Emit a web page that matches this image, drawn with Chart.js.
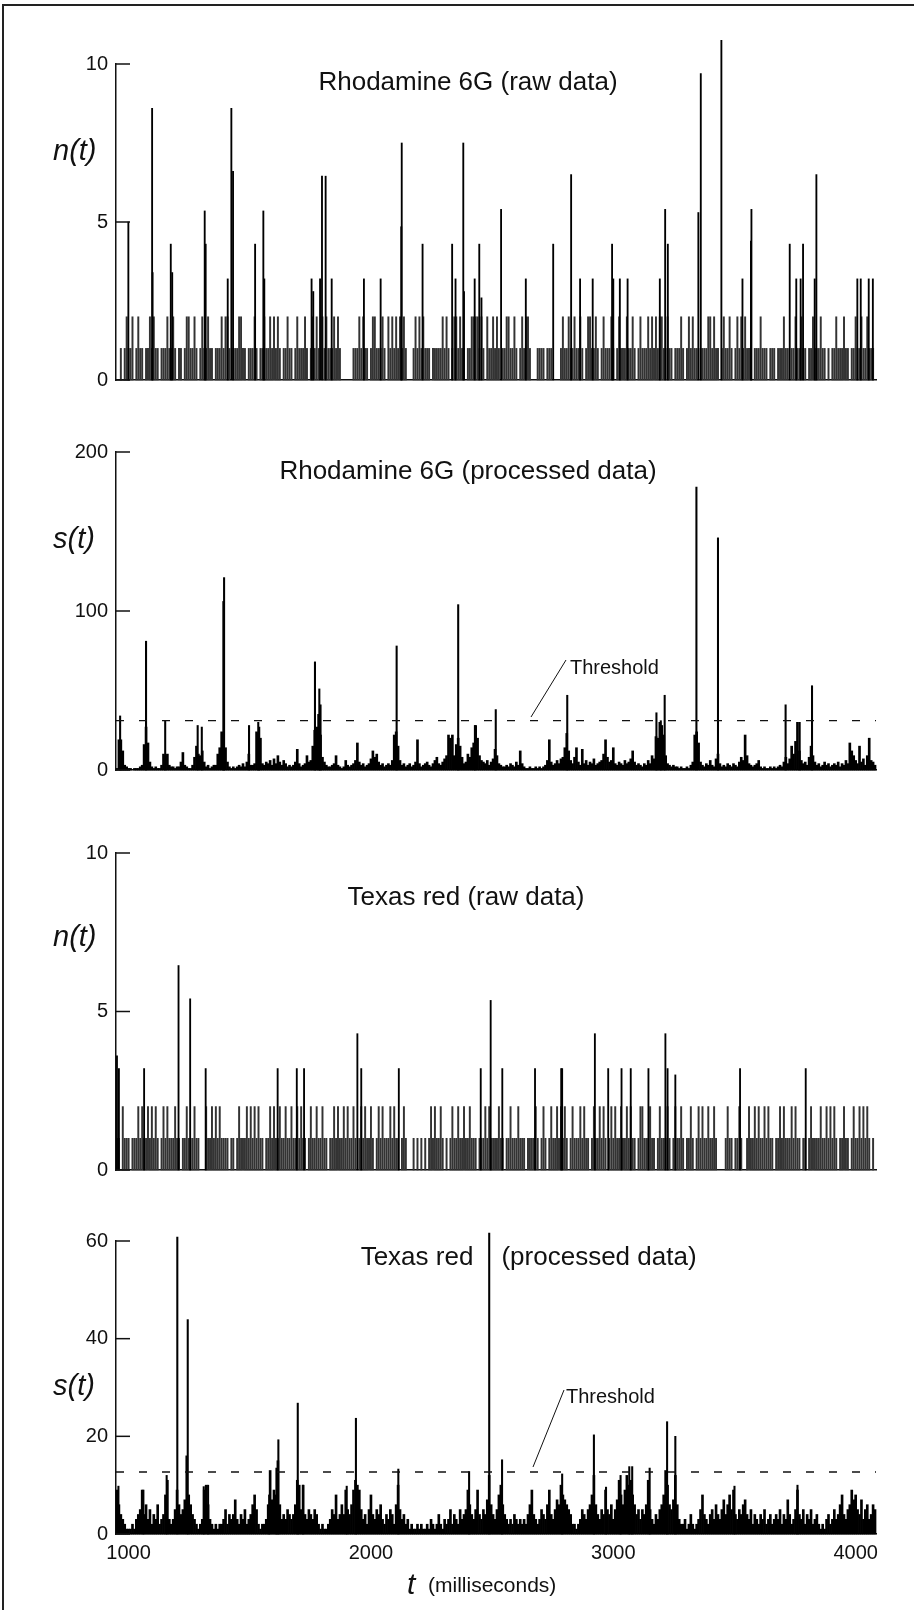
<!DOCTYPE html>
<html lang="en">
<head>
<meta charset="UTF-8" />
<title>Single-molecule photon bursts</title>
<script src="https://cdn.jsdelivr.net/npm/chart.js"></script>
<style>
  body { margin: 0; background: #fff; }
  .page { position: relative; width: 914px; height: 1610px; overflow: hidden; background: #fff; }
  .page canvas { position: absolute; left: 0; }
  .frame { position: absolute; left: 2px; top: 4px; width: 930px; height: 1620px;
           border-left: 2px solid #222; border-top: 2px solid #222; }
</style>
</head>
<body>
<div class="page">
  <div class="frame"></div>
  <canvas id="p1" width="914" height="380" style="top:20px"></canvas>
  <canvas id="p2" width="914" height="380" style="top:410px"></canvas>
  <canvas id="p3" width="914" height="390" style="top:800px"></canvas>
  <canvas id="p4" width="914" height="415" style="top:1195px"></canvas>
</div>
<script>
// time axis (ms)
const tMin = 948;
const tMax = 4084;
const tAxisTicks = [1000, 2000, 3000, 4000];
// binned traces: one character per 8 ms bin starting at 952 ms (base 36)
const binStart = 952;
const binWidth = 8;

// --- Rhodamine 6G, raw counts n(t) ---
const r6gRaw =
  "0010121120" + "1211011212" + "1101112112" + "1011012211" +
  "2101211211" + "0111212210" + "1112211011" + "1210112112" +
  "1212101121" + "1012111210" + "1212102121" + "1121210000" +
  "0011121211" + "0122111210" + "2121212121" + "0001212121" +
  "1101111121" + "2101221211" + "0112222121" + "0211212101" +
  "1221121012" + "1221000111" + "1011100001" + "2112112112" +
  "1012211210" + "1211121012" + "1112112101" + "2111212121" +
  "2211211011" + "1210121211" + "0111122121" + "1012112101" +
  "2121211101" + "1121110111" + "0111211011" + "2112110112" +
  "1112110101" + "1211121101" + "1211211211" + "10";
const r6gRawPeakT = [999, 1097, 1099, 1174, 1180, 1314, 1318, 1409, 1424, 1431, 1522, 1556, 1560,
  1755, 1762, 1790, 1798, 1813, 1838, 1971, 2040, 2125, 2127, 2213, 2335, 2349, 2381, 2384,
  2428, 2447, 2456, 2537, 2639, 2752, 2826, 2863, 2915, 2995, 3000, 3027, 3059, 3192, 3214,
  3225, 3351, 3361, 3446, 3533, 3568, 3570, 3728, 3755, 3773, 3783, 3831, 3838, 4007, 4021,
  4054, 4071];
const r6gRawPeakN = [5, 8.6, 3.4, 4.3, 3.4, 5.35, 4.3, 3.2, 8.6, 6.6, 4.3, 5.35, 3.2,
  3.2, 2.8, 3.2, 6.45, 6.45, 3.2, 3.2, 3.2, 4.85, 7.5, 4.3, 4.3, 3.2, 7.5, 2.8,
  3.2, 4.3, 2.6, 5.4, 3.2, 4.3, 6.5, 3.2, 3.2, 4.3, 3.2, 3.2, 3.2, 3.2, 5.4,
  4.3, 5.3, 9.7, 10.75, 3.2, 4.4, 5.4, 4.3, 3.2, 3.2, 4.3, 3.2, 6.5, 3.2, 3.2,
  3.2, 3.2];

// --- Rhodamine 6G, processed s(t) ---
const r6gProc =
  "1jjc321101" + "1123grh521" + "2113a9a322" + "1225b32113" +
  "8fa9c52312" + "33aeoke521" + "21232425a3" + "34onk43546" +
  "3749536423" + "235d423495" + "6fprzm8532" + "2349321263" +
  "2346h53423" + "47c8a53423" + "436mof6342" + "34235j4234" +
  "5324684357" + "9mkm9gkf84" + "5a8ehsk965" + "46357d9432" +
  "23243253c4" + "2112112121" + "236j534647" + "8enc648e53" +
  "d463547345" + "6aj856e435" + "436457c534" + "32436497lk" +
  "usm9432322" + "12112135mo" + "h532436327" + "a423243243" +
  "2586m94323" + "4621211212" + "12325847fa" + "iuc64538f9" +
  "5342353423" + "43524364hc" + "964f5739k6" + "53";
const r6gProcPeakT = [965, 1072, 1151, 1285, 1302, 1391, 1394, 1497, 1535, 1539, 1769, 1787, 1792,
  2106, 2360, 2429, 2515, 2810, 3178, 3196, 3212, 3343, 3432, 3711, 3769, 3820];
const r6gProcPeakS = [34, 81, 31, 28, 27, 106, 121, 28, 30, 27, 68, 51, 41,
  78, 104, 28, 38, 47, 36, 31, 47, 178, 146, 41, 30, 53];
const r6gThreshold = 31;

// --- Texas red, raw counts n(t) ---
const trRaw =
  "1102111011" + "1212112121" + "2101212111" + "2110112111" +
  "2110002112" + "1212111101" + "1012111212" + "1212110112" +
  "1211211211" + "2112121101" + "2112112110" + "1121211212" +
  "1121012121" + "1210121211" + "1212110121" + "0001010101" +
  "0121211210" + "1012112112" + "1121110111" + "2121111211" +
  "0112111211" + "1011112101" + "2101211212" + "1210121112" +
  "1211012112" + "1210121211" + "2112121101" + "2211121101" +
  "2111210121" + "1210112101" + "2121121121" + "0000121101" +
  "1210012112" + "1211212110" + "1121211121" + "2110110121" +
  "1112112121" + "2101121101" + "2112121210" + "10";
const trRawPeakT = [952, 960, 1064, 1206, 1254, 1318, 1615, 1694, 1724, 1944, 1960, 2115,
  2453, 2494, 2542, 2677, 2785, 2789, 2924, 2979, 3034, 3072, 3145, 3215, 3224, 3256, 3523, 3794];
const trRawPeakN = [3.6, 3.2, 3.2, 6.45, 5.4, 3.2, 3.2, 3.2, 3.2, 4.3, 3.2, 3.2,
  3.2, 5.35, 3.2, 3.2, 3.2, 3.2, 4.3, 3.2, 3.2, 3.2, 3.2, 4.3, 3.2, 3.0, 3.2, 3.2];

// --- Texas red, processed s(t) ---
const trProc =
  "9643211121" + "3459463524" + "362348b323" + "596457g864" +
  "321239a632" + "1212235243" + "4732435234" + "685212236d" +
  "798f634354" + "346ba5a435" + "4354212112" + "3548346495" +
  "469ba95342" + "5843546324" + "35426a5342" + "3121121211" +
  "2132124213" + "2352432534" + "5964359435" + "47c64358a6" +
  "4323243232" + "3246943235" + "436943576a" + "8765422123" +
  "543568c643" + "549546357b" + "869cab8645" + "3546b53243" +
  "568da657c6" + "3223124212" + "3584324536" + "4357468594" +
  "3546743524" + "3243523423" + "4352437423" + "5943524352" +
  "3421213423" + "5346843569" + "7854735634" + "65";
const trProcPeakT = [958, 1061, 1157, 1201, 1244, 1310, 1328, 1580, 1610, 1618, 1698, 1720, 1900,
  1938, 2113, 2405, 2488, 2541, 2789, 2920, 2970, 3030, 3066, 3078, 3150, 3222, 3256, 3500, 3760];
const trProcPeakS = [9.8, 9, 12, 60.8, 43.9, 9.7, 10, 8, 13.5, 19.3, 26.8, 10, 9.8,
  23.7, 13.3, 12.8, 61.6, 15.2, 12.3, 20.3, 9.6, 12, 13.8, 13.8, 13.5, 23, 20, 9.8, 10];
const trThreshold = 12.7;

const nTicks = [0, 5, 10];
const sTicksR6g = [0, 100, 200];
const sTicksTr = [0, 20, 40, 60];

const ink = "#111";
const face = '"Liberation Sans", Arial, Helvetica, sans-serif';

function binned(str) {
  const pts = [];
  str.split("").forEach((c, i) => {
    const v = parseInt(c, 36);
    if (v > 0) pts.push({ x: binStart + i * binWidth, y: v });
  });
  return pts;
}

function peaks(ts, vs) {
  return ts.map((t, i) => ({ x: t, y: vs[i] }));
}

function bars(data, color, thick) {
  return { type: "bar", data: data, backgroundColor: color, barThickness: thick,
           grouped: false, clip: false, borderWidth: 0 };
}

function thresholdLine(v) {
  return { type: "line", data: [{ x: tMin, y: v }, { x: tMax, y: v }],
           borderColor: ink, borderWidth: 1.3, borderDash: [8, 15], pointRadius: 0 };
}

function makeDecor(cfg) {
  return {
    id: "decor",
    afterDraw(chart) {
      const ctx = chart.ctx;
      const x = chart.scales.x, y = chart.scales.y;
      ctx.save();
      // inward tick marks on the value axis
      ctx.strokeStyle = ink;
      ctx.lineWidth = 1.5;
      y.ticks.forEach(tk => {
        const py = y.getPixelForValue(tk.value);
        ctx.beginPath();
        ctx.moveTo(x.left, py);
        ctx.lineTo(x.left + 14, py);
        ctx.stroke();
      });
      ctx.fillStyle = ink;
      ctx.textBaseline = "middle";
      ctx.textAlign = "center";
      ctx.font = "26px " + face;
      cfg.titles.forEach(t => ctx.fillText(t[0], t[1], t[2]));
      ctx.textAlign = "left";
      ctx.font = "italic 29px " + face;
      ctx.fillText(cfg.yLabel[0], cfg.yLabel[1], cfg.yLabel[2]);
      if (cfg.note) {
        const n = cfg.note;
        ctx.font = "20px " + face;
        ctx.fillText("Threshold", n.tx, n.ty);
        ctx.lineWidth = 1;
        ctx.beginPath();
        ctx.moveTo(n.x0, n.y0);
        ctx.lineTo(n.x1, n.y1);
        ctx.stroke();
      }
      if (cfg.xTitle) {
        ctx.font = "italic 30px " + face;
        ctx.fillText("t", 407, cfg.xTitle);
        ctx.font = "21px " + face;
        ctx.fillText("(milliseconds)", 428, cfg.xTitle);
      }
      ctx.restore();
    }
  };
}

function makePanel(id, cfg) {
  const tickFont = { family: face, size: 20 };
  return new Chart(document.getElementById(id), {
    type: "bar",
    data: { datasets: cfg.datasets },
    options: {
      responsive: false,
      animation: false,
      devicePixelRatio: 1,
      layout: { padding: { top: cfg.padTop, right: 38, left: 0, bottom: 0 } },
      plugins: { legend: { display: false }, tooltip: { enabled: false } },
      scales: {
        x: {
          type: "linear", min: tMin, max: tMax, offset: false,
          afterBuildTicks: s => { s.ticks = tAxisTicks.map(v => ({ value: v })); },
          afterFit: s => { s.height = cfg.xHeight; },
          grid: { display: false, drawTicks: false, offset: false },
          border: { display: true, color: ink, width: 1.5 },
          ticks: { display: cfg.showX, font: tickFont, color: ink, padding: 7,
                   maxRotation: 0, autoSkip: false, callback: v => String(v) }
        },
        y: {
          min: 0, max: cfg.yMax,
          afterBuildTicks: s => { s.ticks = cfg.yTicks.map(v => ({ value: v })); },
          afterFit: s => { s.width = 116; },
          grid: { display: false, drawTicks: false },
          border: { display: true, color: ink, width: 1.5 },
          ticks: { font: tickFont, color: ink, padding: 8 }
        }
      }
    },
    plugins: [makeDecor(cfg)]
  });
}

makePanel("p1", {
  padTop: 44, xHeight: 16, showX: false, yMax: 10, yTicks: nTicks,
  titles: [["Rhodamine 6G (raw data)", 468, 63]],
  yLabel: ["n(t)", 53, 132],
  datasets: [
    bars(peaks(r6gRawPeakT, r6gRawPeakN), "#000", 1.2),
    bars(binned(r6gRaw), "#333", 1.3)
  ]
});

makePanel("p2", {
  padTop: 42, xHeight: 18, showX: false, yMax: 200, yTicks: sTicksR6g,
  titles: [["Rhodamine 6G (processed data)", 468, 62]],
  yLabel: ["s(t)", 53, 130],
  note: { tx: 570, ty: 258, x0: 531, y0: 307, x1: 566, y1: 250 },
  datasets: [
    thresholdLine(r6gThreshold),
    bars(peaks(r6gProcPeakT, r6gProcPeakS), "#000", 1.4),
    bars(binned(r6gProc), "#000", 2)
  ]
});

makePanel("p3", {
  padTop: 53, xHeight: 18, showX: false, yMax: 10, yTicks: nTicks,
  titles: [["Texas red (raw data)", 466, 98]],
  yLabel: ["n(t)", 53, 138],
  datasets: [
    bars(peaks(trRawPeakT, trRawPeakN), "#000", 1.2),
    bars(binned(trRaw), "#333", 1.3)
  ]
});

makePanel("p4", {
  padTop: 46, xHeight: 76, showX: true, yMax: 60, yTicks: sTicksTr,
  titles: [["Texas red", 417, 63], ["(processed data)", 599, 63]],
  yLabel: ["s(t)", 53, 192],
  note: { tx: 566, ty: 202, x0: 533, y0: 272, x1: 564, y1: 195 },
  xTitle: 391,
  datasets: [
    thresholdLine(trThreshold),
    bars(peaks(trProcPeakT, trProcPeakS), "#000", 1.4),
    bars(binned(trProc), "#000", 2)
  ]
});
</script>
</body>
</html>
